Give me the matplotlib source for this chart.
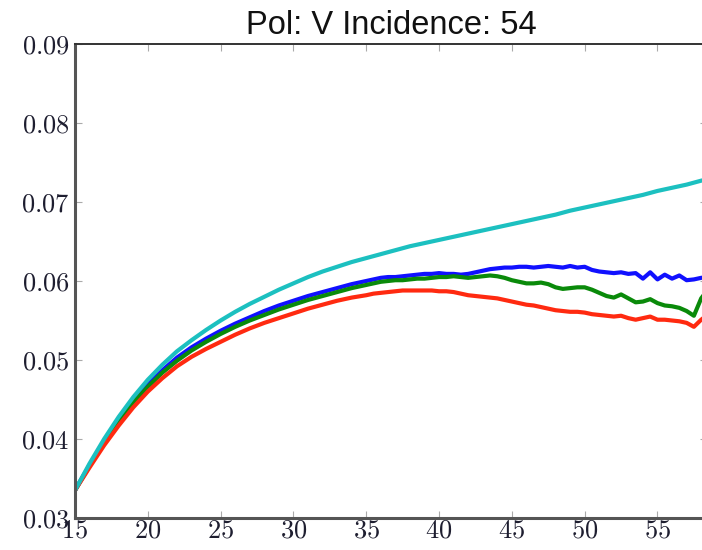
import matplotlib
matplotlib.use("Agg")
import matplotlib.pyplot as plt
from matplotlib.ticker import FuncFormatter

plt.rcParams["mathtext.fontset"] = "cm"

title = "Pol: V Incidence: 54"

# Smooth reference curve, sampled every degree
x_ref = [15, 16, 17, 18, 19, 20, 21, 22, 23, 24, 25, 26, 27, 28, 29, 30,
         31, 32, 33, 34, 35, 36, 37, 38, 39, 40, 41, 42, 43, 44, 45, 46,
         47, 48, 49, 50, 51, 52, 53, 54, 55, 56, 57, 58, 59]
cyan_y = [0.0335, 0.0369, 0.0400, 0.0428, 0.0453, 0.0475, 0.0494, 0.0511,
          0.0525, 0.0538, 0.0550, 0.0561, 0.0571, 0.0580, 0.0589, 0.0597,
          0.0605, 0.0612, 0.0618, 0.0624, 0.0629, 0.0634, 0.0639, 0.0644,
          0.0648, 0.0652, 0.0656, 0.0660, 0.0664, 0.0668, 0.0672, 0.0676,
          0.0680, 0.0684, 0.0689, 0.0693, 0.0697, 0.0701, 0.0705, 0.0709,
          0.0714, 0.0718, 0.0722, 0.0727, 0.0731]

# Estimated curves: 1-degree steps up to 35, then half-degree steps
x_est = [15, 16, 17, 18, 19, 20, 21, 22, 23, 24, 25, 26, 27, 28, 29, 30,
         31, 32, 33, 34, 35,
         35.5, 36, 36.5, 37, 37.5, 38, 38.5, 39, 39.5, 40, 40.5, 41, 41.5,
         42, 42.5, 43, 43.5, 44, 44.5, 45, 45.5, 46, 46.5, 47, 47.5, 48,
         48.5, 49, 49.5, 50, 50.5, 51, 51.5, 52, 52.5, 53, 53.5, 54, 54.5,
         55, 55.5, 56, 56.5, 57, 57.5, 58, 58.5]

blue_y = [0.0335, 0.0367, 0.0397, 0.0424, 0.0448, 0.0469, 0.0487, 0.0503,
          0.0516, 0.0527, 0.0537, 0.0546, 0.0554, 0.0562, 0.0569, 0.0575,
          0.0581, 0.0586, 0.0591, 0.0596, 0.0600,
          0.0602, 0.0604, 0.0605, 0.0605, 0.0606, 0.0607, 0.0608, 0.0609,
          0.0609, 0.0610, 0.0609, 0.0609, 0.0608, 0.0609, 0.0611, 0.0613,
          0.0615, 0.0616, 0.0617, 0.0617, 0.0618, 0.0618, 0.0617, 0.0618,
          0.0619, 0.0618, 0.0617, 0.0619, 0.0617, 0.0618, 0.0614, 0.0612,
          0.0611, 0.0610, 0.0611, 0.0609, 0.0610, 0.0603, 0.0611, 0.0602,
          0.0608, 0.0603, 0.0607, 0.0601, 0.0602, 0.0604, 0.0605]

green_y = [0.0335, 0.0366, 0.0396, 0.0422, 0.0446, 0.0466, 0.0484, 0.0499,
           0.0512, 0.0523, 0.0533, 0.0542, 0.0550, 0.0557, 0.0564, 0.0570,
           0.0576, 0.0581, 0.0586, 0.0591, 0.0595,
           0.0597, 0.0599, 0.0600, 0.0601, 0.0601, 0.0602, 0.0603, 0.0603,
           0.0604, 0.0605, 0.0605, 0.0606, 0.0605, 0.0604, 0.0605, 0.0606,
           0.0607, 0.0606, 0.0604, 0.0601, 0.0599, 0.0597, 0.0597, 0.0598,
           0.0596, 0.0592, 0.0590, 0.0591, 0.0592, 0.0592, 0.0589, 0.0585,
           0.0581, 0.0579, 0.0583, 0.0578, 0.0573, 0.0574, 0.0577, 0.0572,
           0.0569, 0.0568, 0.0566, 0.0562, 0.0556, 0.0578, 0.0590]

red_y = [0.0335, 0.0364, 0.0392, 0.0417, 0.0440, 0.0460, 0.0477, 0.0492,
         0.0504, 0.0514, 0.0523, 0.0532, 0.0540, 0.0547, 0.0553, 0.0559,
         0.0565, 0.0570, 0.0575, 0.0579, 0.0582,
         0.0584, 0.0585, 0.0586, 0.0587, 0.0588, 0.0588, 0.0588, 0.0588,
         0.0588, 0.0587, 0.0587, 0.0586, 0.0584, 0.0582, 0.0581, 0.0580,
         0.0579, 0.0578, 0.0576, 0.0574, 0.0572, 0.0570, 0.0569, 0.0567,
         0.0565, 0.0563, 0.0562, 0.0561, 0.0561, 0.0560, 0.0558, 0.0557,
         0.0556, 0.0555, 0.0556, 0.0553, 0.0551, 0.0553, 0.0555, 0.0551,
         0.0551, 0.0550, 0.0549, 0.0547, 0.0542, 0.0551, 0.0558]

x_ticks = [15, 20, 25, 30, 35, 40, 45, 50, 55]
y_ticks = [0.03, 0.04, 0.05, 0.06, 0.07, 0.08, 0.09]

W, H = 702, 550
fig = plt.figure(figsize=(W / 100, H / 100), dpi=100)
left, right, top, bottom = 75, 707, 44, 518
ax = fig.add_axes([left / W, 1 - bottom / H, (right - left) / W, (bottom - top) / H])

lw = 3.0
ax.plot(x_est, blue_y, color="#1010ff", lw=lw, solid_joinstyle="round")
ax.plot(x_est, green_y, color="#0a8a0a", lw=lw, solid_joinstyle="round")
ax.plot(x_est, red_y, color="#ff2a10", lw=lw, solid_joinstyle="round")
ax.plot(x_ref, cyan_y, color="#1cc0c0", lw=lw, solid_joinstyle="round")

ax.set_xlim(15, 58.4)
ax.set_ylim(0.03, 0.09)
ax.set_xticks(x_ticks)
ax.set_yticks(y_ticks)

ax.xaxis.set_major_formatter(FuncFormatter(lambda v, p: r"$%d$" % round(v)))
ax.yaxis.set_major_formatter(FuncFormatter(lambda v, p: r"$%.2f$" % v))

ax.tick_params(axis="both", which="major", direction="in", length=5,
               width=0.8, color="#aaaaaa", labelsize=19, labelcolor="#1e1e30",
               top=True, right=True)
ax.tick_params(axis="x", pad=0)
ax.tick_params(axis="y", pad=4)

for side in ("left", "bottom"):
    ax.spines[side].set_color("#555555")
    ax.spines[side].set_linewidth(2.2)
ax.spines["top"].set_color("#333333")
ax.spines["top"].set_linewidth(1.4)
ax.spines["right"].set_visible(False)

fig.text(391 / W, 1 - 34 / H, title, ha="center", va="baseline",
         fontsize=23.5, family="Liberation Sans", color="#111111")

fig.savefig("out.png", dpi=100)
